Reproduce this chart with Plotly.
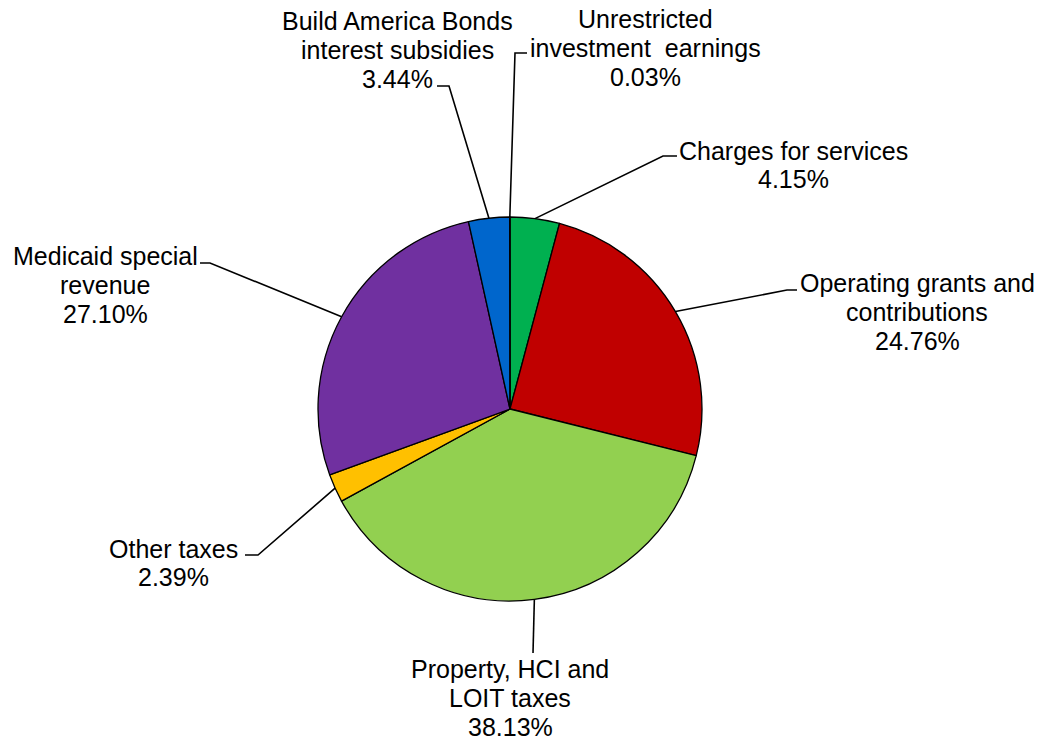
import math
import plotly.graph_objects as go

# ---- data ----
categories = [
    "Charges for services",
    "Operating grants and<br>contributions",
    "Property, HCI and<br>LOIT taxes",
    "Other taxes",
    "Medicaid special<br>revenue",
    "Build America Bonds<br>interest subsidies",
    "Unrestricted<br>investment  earnings",
]
shares = [4.15, 24.76, 38.13, 2.39, 27.10, 3.44, 0.03]
colors = ["#00B050", "#C00000", "#92D050", "#FFC000", "#7030A0", "#0066CC", "#4F81BD"]

# ---- layout (pixels) ----
W, H = 1042, 740
CX, CY, R = 510, 409, 192
FONT = "Liberation Sans, Arial, sans-serif"
FS = 25
LS = 28.8  # line spacing

# label centre, elbow, line end (pixel positions, layout only)
label_layout = [
    dict(c=(793, 165), elbow=(663, 156), end=(677, 156)),
    dict(c=(917, 312), elbow=(787, 290), end=(797, 290)),
    dict(c=(510, 698), elbow=None, end=(533, 653)),
    dict(c=(173, 563), elbow=(258, 555), end=(245, 555)),
    dict(c=(105, 285), elbow=(210, 263), end=(200, 263)),
    dict(c=(397, 50), elbow=(449, 86), end=(437, 86)),
    dict(c=(645, 48), elbow=(515, 53), end=(527, 53)),
]


def px(x):
    return x / W


def py(y):
    return 1 - y / H


fig = go.Figure()
fig.add_trace(go.Pie(
    values=shares,
    labels=[c.replace("<br>", " ") for c in categories],
    marker=dict(colors=colors, line=dict(color="black", width=1.3)),
    sort=False,
    direction="clockwise",
    rotation=0,
    textinfo="none",
    hoverinfo="label+percent",
    showlegend=False,
    domain=dict(x=[px(CX - R), px(CX + R)], y=[1 - (CY + R) / H, 1 - (CY - R) / H]),
))

total = sum(shares)
cum = 0.0
annotations = []
shapes = []
for cat, val, lay in zip(categories, shares, label_layout):
    mid = (cum + val / 2) / total * 2 * math.pi
    cum += val
    sx = CX + R * math.sin(mid)
    sy = CY - R * math.cos(mid)
    pts = [(sx, sy)]
    if lay["elbow"] is not None:
        pts.append(lay["elbow"])
    pts.append(lay["end"])
    path = "M " + " L ".join(f"{px(x):.5f},{py(y):.5f}" for x, y in pts)
    shapes.append(dict(type="path", xref="paper", yref="paper", path=path,
                       line=dict(color="black", width=1.6)))
    lines = cat.split("<br>") + [f"{val:.2f}%"]
    n = len(lines)
    for i, t in enumerate(lines):
        ly = lay["c"][1] + (i - (n - 1) / 2) * LS
        annotations.append(dict(
            x=px(lay["c"][0]), y=py(ly), xref="paper", yref="paper",
            xanchor="center", yanchor="middle", align="center", showarrow=False,
            text=t,
            font=dict(family=FONT, size=FS, color="black"),
        ))

fig.update_layout(
    width=W, height=H,
    margin=dict(l=0, r=0, t=0, b=0),
    paper_bgcolor="white", plot_bgcolor="white",
    annotations=annotations,
    shapes=shapes,
)

fig.write_html("out.html", config={"displayModeBar": False},
               post_script="document.body.style.margin='0px';")
